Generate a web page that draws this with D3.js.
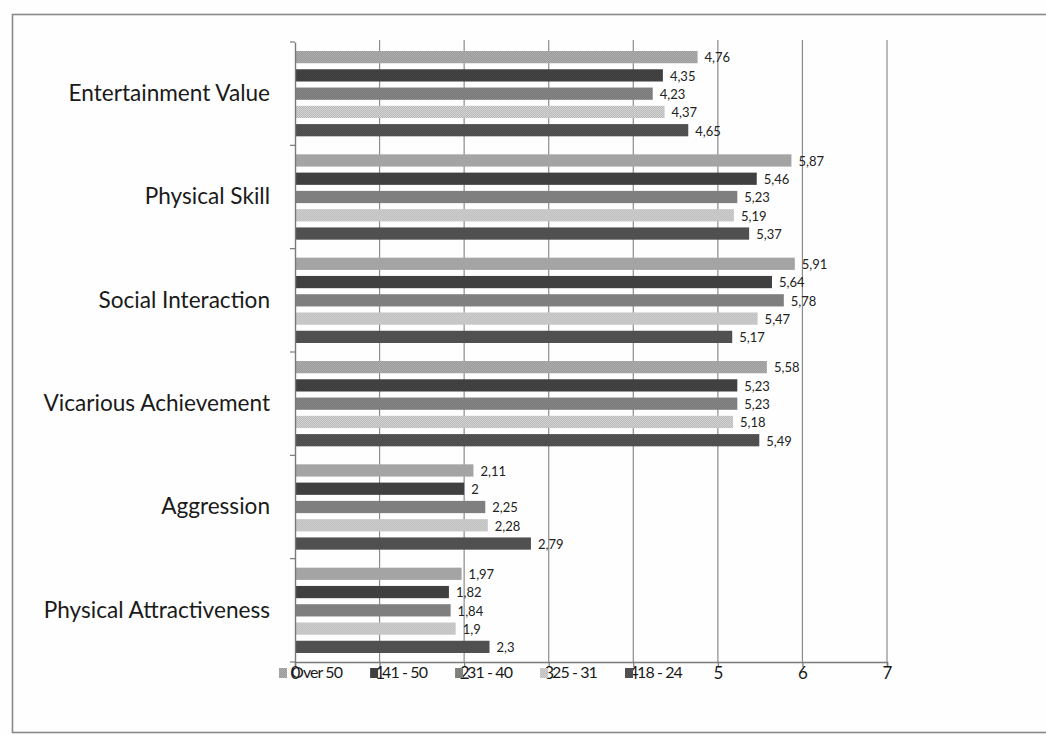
<!DOCTYPE html>
<html>
<head>
<meta charset="utf-8">
<script src="https://cdn.jsdelivr.net/npm/d3@7"></script>
<style>
  html, body { margin: 0; padding: 0; background: #fefefe; }
  svg { display: block; }
</style>
</head>
<body>
<svg id="chart" width="1046" height="735"></svg>
<script>
// Motivation scores by age group
const categories = [
  "Entertainment Value",
  "Physical Skill",
  "Social Interaction",
  "Vicarious Achievement",
  "Aggression",
  "Physical Attractiveness"
];
const seriesNames = ["Over 50", "41 - 50", "31 - 40", "25 - 31", "18 - 24"];
const over50  = [4.76, 5.87, 5.91, 5.58, 2.11, 1.97];
const age4150 = [4.35, 5.46, 5.64, 5.23, 2.00, 1.82];
const age3140 = [4.23, 5.23, 5.78, 5.23, 2.25, 1.84];
const age2531 = [4.37, 5.19, 5.47, 5.18, 2.28, 1.90];
const age1824 = [4.65, 5.37, 5.17, 5.49, 2.79, 2.30];
const tickValues = [0, 1, 2, 3, 4, 5, 6, 7];

const seriesValues = [over50, age4150, age3140, age2531, age1824];
const seriesColors = ["#9a9a9a", "#3c3c3c", "#777777", "#bababa", "#4b4b4b"];

const svg = d3.select("#chart");
const font = "Lato, 'Open Sans', sans-serif";

// outer frame
svg.append("rect")
  .attr("x", 12.5).attr("y", 14.5)
  .attr("width", 1040).attr("height", 718)
  .attr("fill", "none").attr("stroke", "#8a8a8a").attr("stroke-width", 1.6);

// fine checkered fills give the bars a grainy print texture
const defs = svg.append("defs");
seriesColors.forEach((c, i) => {
  const p = defs.append("pattern")
    .attr("id", "fill" + i).attr("patternUnits", "userSpaceOnUse")
    .attr("width", 2).attr("height", 2);
  p.append("rect").attr("width", 2).attr("height", 2).attr("fill", c);
  const lighter = d3.color(c).brighter(0.35).formatHex();
  p.append("rect").attr("x", 0).attr("y", 0).attr("width", 1).attr("height", 1).attr("fill", lighter);
  p.append("rect").attr("x", 1).attr("y", 1).attr("width", 1).attr("height", 1).attr("fill", lighter);
});

const plot = { left: 295, right: 887, top: 42, bottom: 662 };

const x = d3.scaleLinear().domain([0, 7]).range([plot.left, plot.right]);
const y = d3.scaleBand().domain(categories).range([plot.top, plot.bottom]).padding(0);
const ySub = d3.scaleBand().domain(d3.range(seriesNames.length))
  .range([9, y.bandwidth() - 9]).paddingInner(0.33).paddingOuter(0);

// vertical gridlines
svg.append("g").selectAll("line")
  .data(tickValues.filter(v => v > 0))
  .join("line")
  .attr("x1", d => x(d)).attr("x2", d => x(d))
  .attr("y1", plot.top - 2).attr("y2", plot.bottom)
  .attr("stroke", "#8c8c8c").attr("stroke-width", 1.2);

// bars and value labels
const groups = svg.append("g").selectAll("g")
  .data(categories)
  .join("g")
  .attr("transform", d => `translate(0,${y(d)})`);

groups.each(function(cat, ci) {
  const g = d3.select(this);
  seriesValues.forEach((vals, si) => {
    const v = vals[ci];
    g.append("rect")
      .attr("x", x(0)).attr("y", ySub(si))
      .attr("width", x(v) - x(0)).attr("height", ySub.bandwidth())
      .attr("fill", `url(#fill${si})`);
    g.append("text")
      .attr("x", x(v) + 7).attr("y", ySub(si) + ySub.bandwidth() / 2 + 2)
      .attr("dominant-baseline", "middle")
      .attr("font-family", font).attr("font-size", 13).attr("fill", "#222")
      .text(String(v).replace(".", ","));
  });
});

// category axis
const yAxis = d3.axisLeft(y).tickSize(0).tickPadding(25);
const yg = svg.append("g").attr("transform", `translate(${plot.left},0)`).call(yAxis);
yg.select(".domain").attr("stroke", "#7a7a7a").attr("stroke-width", 1.4);
yg.selectAll("text").attr("font-family", font).attr("font-size", 22.6).attr("fill", "#1a1a1a");
// category boundary ticks
svg.append("g").selectAll("line")
  .data(categories.map(c => y(c)).concat([plot.bottom]))
  .join("line")
  .attr("x1", plot.left - 5).attr("x2", plot.left)
  .attr("y1", d => d).attr("y2", d => d)
  .attr("stroke", "#7a7a7a").attr("stroke-width", 1.2);

// value axis
const xAxis = d3.axisBottom(x).tickValues(tickValues).tickSize(5).tickPadding(0)
  .tickFormat(d3.format("d"));
const xg = svg.append("g").attr("transform", `translate(0,${plot.bottom})`).call(xAxis);
xg.select(".domain").attr("stroke", "#7a7a7a").attr("stroke-width", 1.6);
xg.selectAll(".tick line").attr("stroke", "#7a7a7a").attr("stroke-width", 1.2);
xg.selectAll("text").attr("font-family", font).attr("font-size", 17).attr("fill", "#1a1a1a");

// legend, laid over the value-axis labels
const legend = svg.append("g").attr("transform", `translate(279,${plot.bottom + 12})`);
let lx = 0;
seriesNames.forEach((name, i) => {
  const item = legend.append("g").attr("transform", `translate(${lx},0)`);
  item.append("rect").attr("x", 0).attr("y", -6).attr("width", 8).attr("height", 10)
    .attr("fill", `url(#fill${i})`);
  const t = item.append("text").attr("x", 12).attr("y", 0)
    .attr("dominant-baseline", "middle")
    .attr("font-family", font).attr("font-size", 16)
    .attr("letter-spacing", -0.9)
    .attr("fill", "#1a1a1a")
    .text(name);
  lx += 12 + t.node().getComputedTextLength() + 28;
});
</script>
</body>
</html>
